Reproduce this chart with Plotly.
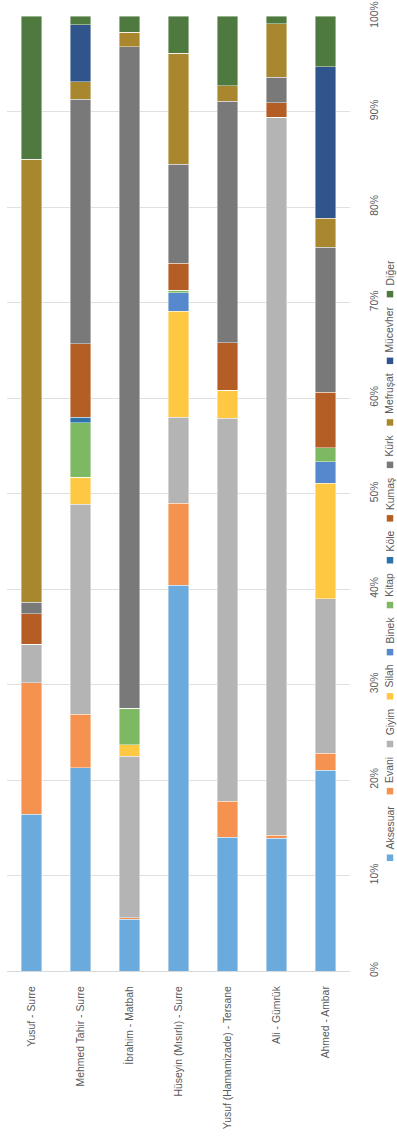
import plotly.graph_objects as go

categories = ["Yusuf - Surre", "Mehmed Tahir - Surre", "İbrahim - Matbah",
              "Hüseyin (Mısırlı) - Surre", "Yusuf (Hamamizade) - Tersane",
              "Ali - Gümrük", "Ahmed - Ambar"]

aksesuar = [16.4, 21.3, 5.4, 40.4, 14.0, 13.9, 21.0]
evani    = [13.8, 5.6, 0.2, 8.6, 3.8, 0.3, 1.8]
giyim    = [4.0, 22.0, 16.9, 9.0, 40.1, 75.2, 16.2]
silah    = [0.0, 2.8, 1.2, 11.1, 2.9, 0.0, 12.1]
binek    = [0.0, 0.0, 0.0, 1.9, 0.0, 0.0, 2.2]
kitap    = [0.0, 5.7, 3.8, 0.3, 0.0, 0.0, 1.5]
kole     = [0.0, 0.6, 0.0, 0.0, 0.0, 0.0, 0.0]
kumas    = [3.2, 7.7, 0.0, 2.8, 5.0, 1.5, 5.8]
kurk     = [1.2, 25.6, 69.3, 10.4, 25.3, 2.7, 15.2]
mefrusat = [46.4, 1.8, 1.5, 11.6, 1.6, 5.6, 3.0]
mucevher = [0.0, 6.0, 0.0, 0.0, 0.0, 0.0, 15.9]
diger    = [15.0, 0.9, 1.7, 3.9, 7.3, 0.8, 5.3]

series_names = ["Aksesuar", "Evani", "Giyim", "Silah", "Binek", "Kitap",
                "Köle", "Kumaş", "Kürk", "Mefruşat", "Mücevher", "Diğer"]
series_values = [aksesuar, evani, giyim, silah, binek, kitap,
                 kole, kumas, kurk, mefrusat, mucevher, diger]
colors = ["#6aaadc", "#f5924f", "#b4b4b4", "#ffc842", "#5588cc", "#7cb962",
          "#2e72a8", "#b45e26", "#797979", "#a9872f", "#30558d", "#4f7a3f"]

tick_vals = list(range(0, 101, 10))
tick_text = [f"{v}%" for v in tick_vals]

W, H = 397, 1137
L, R, T, B = 7, 47, 16, 166
plot_h = H - T - B

FONT = "Liberation Sans"
GREY = "#595959"

fig = go.Figure()
for name, vals, col in zip(series_names, series_values, colors):
    fig.add_trace(go.Bar(
        x=categories, y=vals, name=name,
        marker=dict(color=col, line=dict(color="rgba(255,255,255,0.7)", width=0.6)),
        showlegend=False,
    ))

fig.update_layout(
    width=W, height=H,
    margin=dict(l=L, r=R, t=T, b=B, pad=0, autoexpand=False),
    barmode="stack", bargap=0.59,
    plot_bgcolor="white", paper_bgcolor="white",
    font=dict(family=FONT, size=10.4, color=GREY),
    xaxis=dict(tickangle=-90, showline=True, linecolor="#d9d9d9", linewidth=1,
               ticks="", ticklabelstandoff=10, automargin=False,
               tickfont=dict(size=10.4, color=GREY)),
    yaxis=dict(range=[0, 100], side="right", tickvals=tick_vals, ticktext=tick_text,
               tickangle=-90, showgrid=True, gridcolor="#e0e0e0", gridwidth=1,
               zeroline=False, ticks="", ticklabelstandoff=17, automargin=False,
               tickfont=dict(size=10.4, color=GREY)),
)

# Rotated legend on the right edge (items read bottom-to-top)
text_w = [45.5, 26.0, 26.6, 23.1, 26.0, 23.7, 20.8, 32.4, 21.3, 40.5, 45.6, 24.8]
y_cur = 861.0
x_leg = 390.0
sq = 6.5
item_gap = 11.6
def to_py(py):
    return (H - B - py) / plot_h
def to_px(px):
    return (px - L) / (W - L - R)
for name, col, w in zip(series_names, colors, text_w):
    fig.add_shape(type="rect", xref="paper", yref="paper",
                  x0=to_px(x_leg - sq / 2), x1=to_px(x_leg + sq / 2),
                  y0=to_py(y_cur), y1=to_py(y_cur - sq),
                  fillcolor=col, line=dict(width=0))
    fig.add_annotation(xref="paper", yref="paper", x=to_px(x_leg), y=to_py(y_cur - sq - 3),
                       text=name, textangle=-90, showarrow=False,
                       xanchor="center", yanchor="bottom",
                       font=dict(family=FONT, size=10.4, color=GREY))
    y_cur = y_cur - sq - 3 - w - item_gap

fig.write_html("out.html")
